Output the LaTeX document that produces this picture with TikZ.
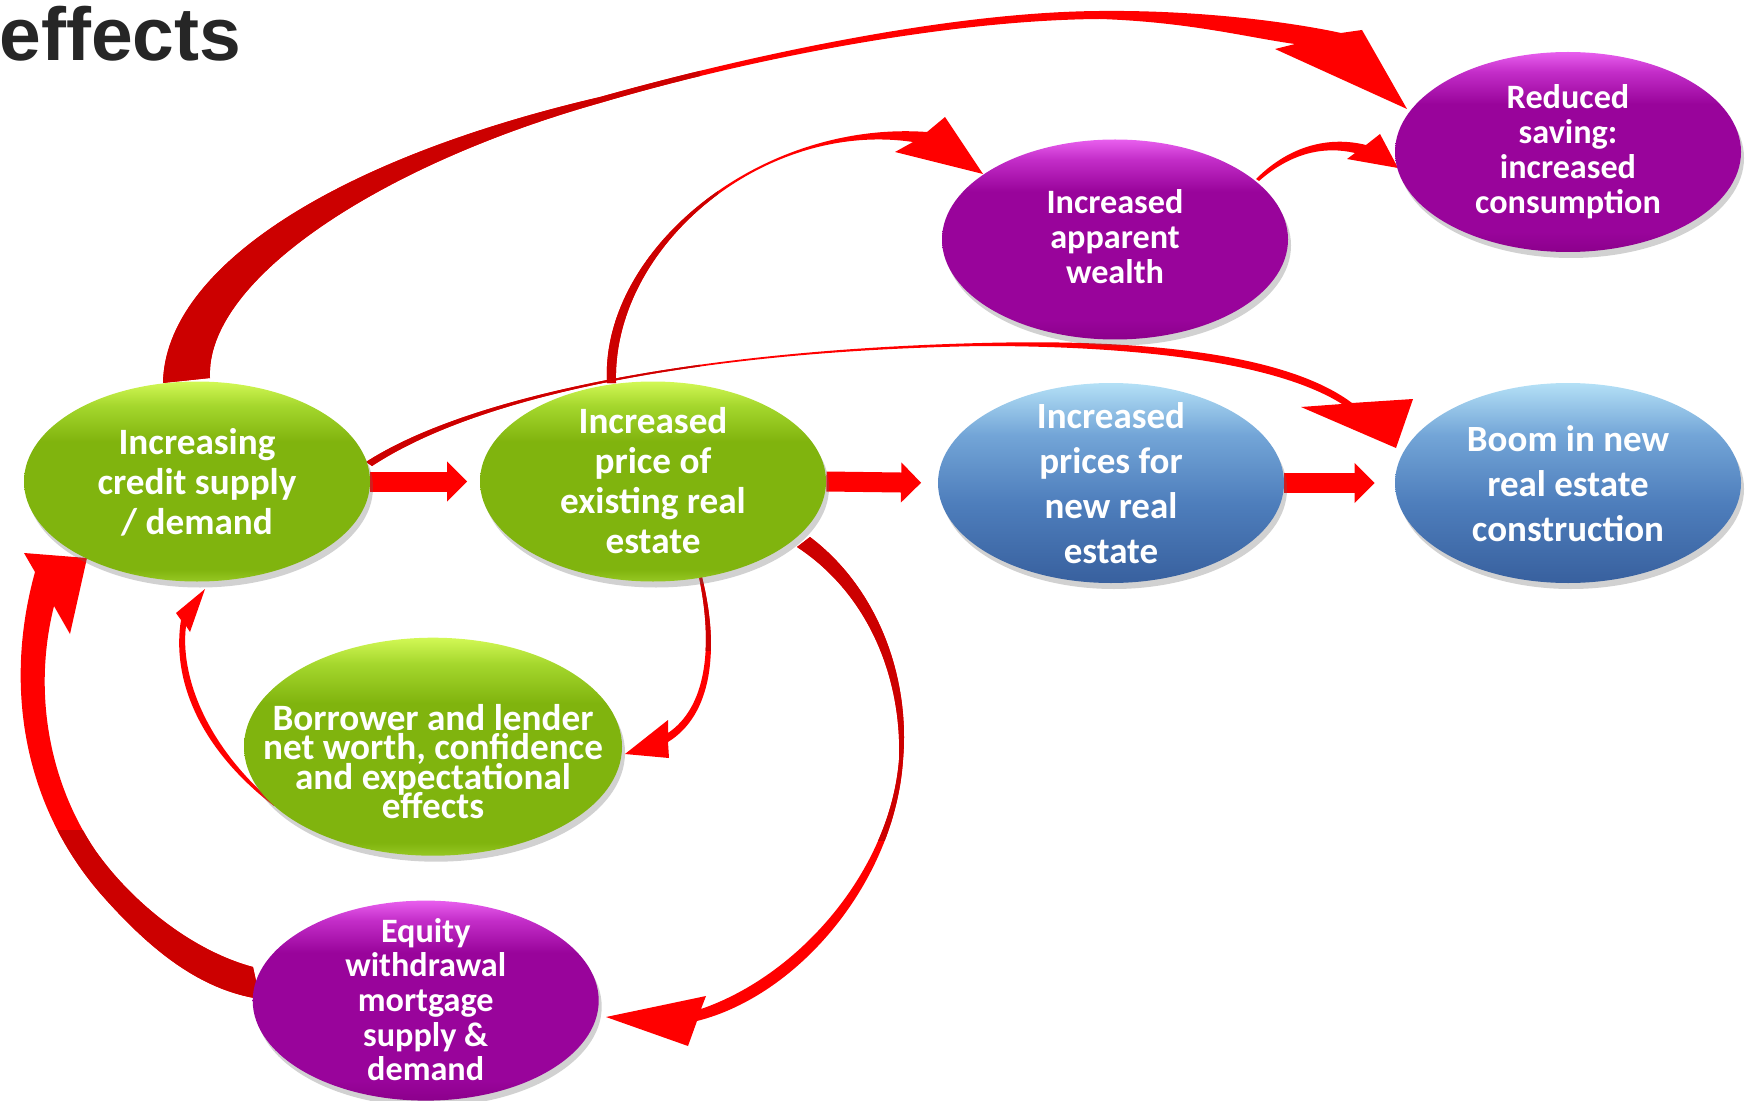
\documentclass[tikz,border=0pt]{standalone}
\usepackage{fontspec}
\setmainfont{Carlito}
\newfontfamily\titlefont{Liberation Sans}
\usetikzlibrary{shapes.geometric,shadows,arrows.meta,backgrounds}

\definecolor{arrdark}{RGB}{204,0,0}
\definecolor{arrred}{RGB}{255,0,0}
\definecolor{titlegray}{RGB}{38,38,38}
\definecolor{gbot}{RGB}{150,200,35}
\definecolor{gbody}{RGB}{128,180,14}
\definecolor{gmid}{RGB}{165,215,45}
\definecolor{gtop}{RGB}{210,248,85}
\definecolor{pbot}{RGB}{140,0,140}
\definecolor{pbody}{RGB}{153,4,155}
\definecolor{pmid}{RGB}{195,45,200}
\definecolor{ptop}{RGB}{232,95,238}
\definecolor{bbot}{RGB}{56,96,158}
\definecolor{bmid}{RGB}{78,126,188}
\definecolor{bup}{RGB}{115,165,215}
\definecolor{btop}{RGB}{180,224,246}

\pgfdeclareverticalshading{greenshade}{100bp}{color(0bp)=(gbot); color(25bp)=(gbot); color(28bp)=(gbody); color(60bp)=(gbody); color(69bp)=(gmid); color(75bp)=(gtop); color(100bp)=(gtop)}
\pgfdeclareverticalshading{purpleshade}{100bp}{color(0bp)=(pbot); color(25bp)=(pbot); color(30bp)=(pbody); color(62bp)=(pbody); color(70bp)=(pmid); color(75bp)=(ptop); color(100bp)=(ptop)}
\pgfdeclareverticalshading{blueshade}{100bp}{color(0bp)=(bbot); color(25bp)=(bbot); color(45bp)=(bmid); color(62bp)=(bup); color(75bp)=(btop); color(100bp)=(btop)}

% centred multi-line text of zero size (keeps the ellipse at its set size);
% optional argument = how far the block is moved down
\newcommand\balltext[2][1.5pt]{\hbox to 0pt{\hss\vbox to 0pt{\lineskiplimit=-100pt\vss\vskip#1\vskip#1\halign{\hfil\vrule height 12pt depth 4pt width 0pt##\hfil\cr#2\crcr}\vss}\hss}}

% curved tapering arrows (shaft + head), in pixel units
\newcommand\arrA{(163,383) .. controls (165,270) and (330,160) .. (600,97) .. controls (750,55) and (950,12) .. (1100,11) .. controls (1200,10) and (1290,22) .. (1341,33) -- (1362,30) -- (1407,109) -- (1275,49) -- (1295,44) .. controls (1250,38) and (1190,22) .. (1100,19) .. controls (950,20) and (752,58) .. (600,103) .. controls (380,165) and (205,280) .. (210,378) -- cycle}
\newcommand\arrB{(607,383) .. controls (600,250) and (760,120) .. (927,132) -- (945,117) -- (983,174) -- (895,152) -- (913,142) .. controls (765,120) and (612,245) .. (616,383) -- cycle}
\newcommand\arrC{(1256,179) .. controls (1290,145) and (1330,136) .. (1366,145) -- (1380,134) -- (1398,168) -- (1347,159) -- (1355,153) .. controls (1325,146) and (1292,152) .. (1259,181) -- cycle}
\newcommand\arrD{(366,462) .. controls (470,395) and (700,350) .. (982,343) .. controls (1170,338) and (1295,360) .. (1352,403) -- (1413,399) -- (1396,448) -- (1301,407) -- (1342,404) .. controls (1285,368) and (1165,346) .. (982,346) .. controls (700,351) and (480,395) .. (372,466) -- cycle}
\newcommand\arrF{(702,577) .. controls (720,650) and (712,715) .. (668,742) -- (669,758) -- (625,754) -- (668,720) -- (668,733) .. controls (705,708) and (714,650) .. (699,577) -- cycle}
\newcommand\arrG{(274,806) .. controls (195,745) and (172,675) .. (181,620) -- (176,613) -- (205,589) -- (190,632) -- (186,626) .. controls (180,675) and (205,745) .. (276,805) -- cycle}
\newcommand\arrH{(810,537) .. controls (880,590) and (910,680) .. (903,760) .. controls (895,880) and (800,995) .. (697,1021) -- (688,1046) -- (606,1017) -- (706,996) -- (701,1009) .. controls (800,975) and (890,870) .. (899,760) .. controls (902,680) and (870,595) .. (797,547) -- cycle}
\newcommand\arrI{(260,999) .. controls (200,990) and (150,950) .. (100,893) .. controls (20,800) and (5,680) .. (35,572) -- (24,553) -- (87,558) -- (70,634) -- (54,606) .. controls (33,690) and (48,780) .. (95,850) .. controls (130,900) and (190,950) .. (253,967) -- cycle}

\tikzset{
  ball/.style={ellipse, inner sep=0pt, text=white, minimum width=173pt, minimum height=100pt,
    drop shadow={shadow xshift=1.5pt, shadow yshift=-3pt, opacity=0.3, fill=black!60}},
  greenball/.style={ball, shade, shading=greenshade},
  purpleball/.style={ball, shade, shading=purpleshade},
  blueball/.style={ball, shade, shading=blueshade},
  fnt/.style 2 args={font=\fontsize{#1}{#2}\selectfont\bfseries},
  fatarrow/.style={draw=arrred, line width=10pt, -{Triangle[length=10pt,width=19.5pt]}},
}

\begin{document}
\begin{tikzpicture}[x=0.5pt,y=-0.5pt]
\useasboundingbox (0,0) rectangle (1754,1101);

\node[anchor=base west, inner sep=0pt, text=titlegray, font=\titlefont\bfseries\fontsize{37.5}{40}\selectfont] (title) at (-1,61) {effects};

\node[greenball, fnt={18.6}{19.9}] (cred) at (197,481.5) {\balltext[1.9pt]{Increasing\cr credit supply\cr / demand}};
\node[greenball, fnt={18.6}{20}] (price) at (653,481.5) {\balltext[1.5pt]{Increased\cr price of\cr existing real\cr estate}};
\node[blueball, fnt={18.5}{22.35}] (newp) at (1111,483) {\balltext[2pt]{Increased\cr prices for\cr new real\cr estate}};
\node[blueball, fnt={18.5}{22.35}] (boom) at (1568,483) {\balltext[2.2pt]{Boom in new\cr real estate\cr construction}};
\node[purpleball, fnt={17.1}{17.35}] (wealth) at (1115,239.5) {\balltext[0.6pt]{Increased\cr apparent\cr wealth}};
\node[purpleball, fnt={17.1}{17.5}] (saving) at (1568,152) {\balltext[0.7pt]{Reduced\cr saving:\cr increased\cr consumption}};
\node[greenball, fnt={18.6}{14.7}, minimum width=189pt, minimum height=109pt] (bor) at (433,746.7) {\balltext[9.4pt]{Borrower and lender\cr net worth, confidence\cr and expectational\cr effects}};
\node[purpleball, fnt={17.1}{17.35}] (equity) at (425.7,1000.6) {\balltext[1.4pt]{Equity\cr withdrawal\cr mortgage\cr supply \&\cr demand}};

\begin{pgfonlayer}{background}
  % straight arrows along the middle row
  \draw[fatarrow, shorten >=6.25pt] (cred.east) -- (price.west);
  \draw[fatarrow, shorten >=8.25pt] (price.east) -- (newp.west);
  \draw[fatarrow, shorten >=10pt] (newp.east) -- (boom.west);

  % credit -> reduced saving
  \fill[arrred] \arrA;
  \begin{scope}\clip (0,0) rectangle (700,400); \fill[arrdark] \arrA; \end{scope}
  % existing price -> apparent wealth
  \fill[arrred] \arrB;
  \begin{scope}\clip (550,150) rectangle (718,400); \fill[arrdark] \arrB; \end{scope}
  % apparent wealth -> reduced saving
  \fill[arrred] \arrC;
  % credit -> boom
  \fill[arrred] \arrD;
  \begin{scope}\clip (300,300) rectangle (700,480); \fill[arrdark] \arrD; \end{scope}
  % existing price -> borrower
  \fill[arrred] \arrF;
  \begin{scope}\clip (600,560) rectangle (760,650); \fill[arrdark] \arrF; \end{scope}
  % borrower -> credit
  \fill[arrred] \arrG;
  % existing price -> equity
  \fill[arrred] \arrH;
  \begin{scope}\clip (700,500) rectangle (950,840); \fill[arrdark] \arrH; \end{scope}
  % equity -> credit
  \fill[arrred] \arrI;
  \begin{scope}\clip (0,830) rectangle (300,1050); \fill[arrdark] \arrI; \end{scope}
\end{pgfonlayer}
\end{tikzpicture}
\end{document}
